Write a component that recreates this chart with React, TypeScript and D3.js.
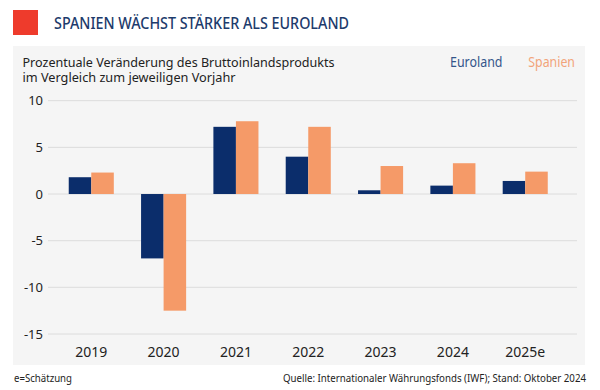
import React from "react";
import * as d3 from "d3";

const categories = ["2019", "2020", "2021", "2022", "2023", "2024", "2025e"];
const euroland = [1.8, -6.9, 7.2, 4.0, 0.4, 0.9, 1.4];
const spanien = [2.3, -12.5, 7.8, 7.2, 3.0, 3.3, 2.4];
const yTicks = [10, 5, 0, -5, -10, -15];
const seriesNames = ["Euroland", "Spanien"];

const W = 600;
const H = 390;
const NAVY = "#0b2d6b";
const ORANGE = "#f59a68";
const FONT = "'Noto Sans', 'Open Sans', sans-serif";

export default function App() {
  const y = d3.scaleLinear().domain([-15, 10]).range([334, 100.7]);
  const x = d3.scaleBand().domain(categories).range([55, 561.5]).paddingInner(0.377).paddingOuter(0.19);
  const x1 = d3.scaleBand().domain(seriesNames).range([0, x.bandwidth()]);
  const series = [euroland, spanien];
  const colors = [NAVY, ORANGE];

  return (
    <svg width={W} height={H} style={{ position: "absolute", left: 0, top: 0, fontFamily: FONT }}>
      <rect x={0} y={0} width={W} height={H} fill="#fff" />
      <rect x={13} y={10} width={25} height={25} fill="#ee3b2c" />
      <text x={54} y={29.3} fontSize={17} fill="#1d3b6c" fontWeight={500} textLength={295} lengthAdjust="spacingAndGlyphs">
        SPANIEN WÄCHST STÄRKER ALS EUROLAND
      </text>
      <rect x={13} y={46} width={572} height={319} fill="#f5f5f5" />
      <text x={22.5} y={66.5} fontSize={12.5} fill="#222" textLength={312} lengthAdjust="spacingAndGlyphs">
        Prozentuale Veränderung des Bruttoinlandsprodukts
      </text>
      <text x={22.5} y={81.8} fontSize={12.5} fill="#222" textLength={213} lengthAdjust="spacingAndGlyphs">
        im Vergleich zum jeweiligen Vorjahr
      </text>
      <text x={450} y={66.7} fontSize={13.5} fill="#34558a" textLength={52.5} lengthAdjust="spacingAndGlyphs">{seriesNames[0]}</text>
      <text x={528.3} y={66.7} fontSize={13.5} fill="#f2a47a" textLength={46.7} lengthAdjust="spacingAndGlyphs">{seriesNames[1]}</text>
      {yTicks.map((t) => (
        <g key={t}>
          <line x1={48} x2={577} y1={y(t)} y2={y(t)} stroke="#dcdcdc" strokeWidth={1} />
          <text x={43} y={y(t) + 4.5} fontSize={13} fill="#222" textAnchor="end">
            {t}
          </text>
        </g>
      ))}
      {categories.map((c, i) => (
        <g key={c} transform={`translate(${x(c)},0)`}>
          {series.map((s, j) => (
            <rect
              key={j}
              x={x1(seriesNames[j])}
              y={y(Math.max(0, s[i]))}
              width={x1.bandwidth()}
              height={Math.abs(y(s[i]) - y(0))}
              fill={colors[j]}
            />
          ))}
          <text x={x.bandwidth() / 2} y={357} fontSize={14} fill="#222" textAnchor="middle">
            {c}
          </text>
        </g>
      ))}
      <text x={14} y={381.5} fontSize={11} fill="#222" textLength={58} lengthAdjust="spacingAndGlyphs">e=Schätzung</text>
      <text x={586} y={381.5} fontSize={11} fill="#222" textAnchor="end" textLength={303} lengthAdjust="spacingAndGlyphs">
        Quelle: Internationaler Währungsfonds (IWF); Stand: Oktober 2024
      </text>
    </svg>
  );
}
